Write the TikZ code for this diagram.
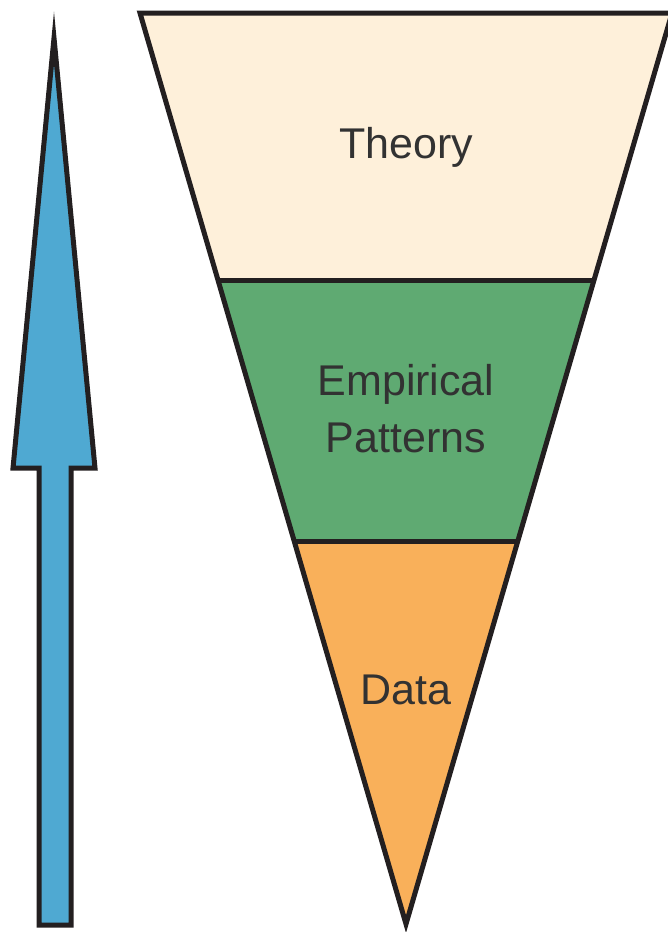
\documentclass[tikz,border=0pt]{standalone}
\usepackage{fontspec}
\setmainfont{Liberation Sans}
\usepackage{xcolor}
\definecolor{fncream}{RGB}{254,240,218}
\definecolor{fngreen}{RGB}{95,170,114}
\definecolor{fnorange}{RGB}{249,176,90}
\definecolor{fnblue}{RGB}{79,169,210}
\definecolor{fnedge}{RGB}{35,31,32}
\definecolor{fntext}{RGB}{50,50,50}
\usetikzlibrary{calc}

\begin{document}
\begin{tikzpicture}[
    x=1pt, y=-1pt,
    band/.style={draw=fnedge, line width=5pt, line join=miter},
    lbl/.style={font=\fontsize{43}{57}\selectfont, text=fntext, align=center, inner sep=0pt}
  ]
    \useasboundingbox (0,0) rectangle (667,932);

    % Funnel corners
    \coordinate (tl) at (140,13);
    \coordinate (tr) at (672,13);
    \coordinate (apex) at (406,924);
    \coordinate (ml) at (218,280);
    \coordinate (mr) at (595,280);
    \coordinate (ll) at (295,541);
    \coordinate (lr) at (517,541);

    % Bands
    \fill[fncream] (tl) -- (tr) -- (mr) -- (ml) -- cycle;
    \fill[fngreen] (ml) -- (mr) -- (lr) -- (ll) -- cycle;
    \fill[fnorange] (ll) -- (lr) -- (apex) -- cycle;
    \draw[band] (ml) -- (mr);
    \draw[band] (ll) -- (lr);
    \draw[band] (tl) -- (tr) -- (apex) -- cycle;

    % Labels
    \node[lbl] (theory) at (406,147) {Theory};
    \node[lbl] (patterns) at (406,409) {Empirical\\Patterns};
    \node[lbl] (data) at (406,690) {Data};

    % Arrow
    \draw[draw=fnedge, fill=fnblue, line width=5pt, line join=miter, miter limit=20]
      (54,38) -- (95,468) -- (71,468) -- (71,925) -- (39,925) -- (39,468) -- (13,468) -- cycle;
  \end{tikzpicture}
\end{document}
